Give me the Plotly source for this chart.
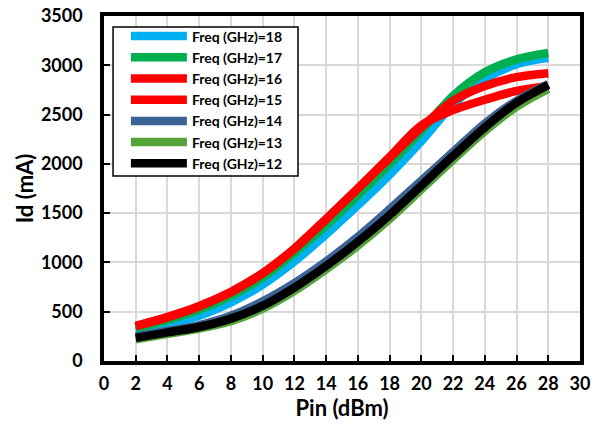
import plotly.graph_objects as go

pin = [2, 4, 6, 8, 10, 12, 14, 16, 18, 20, 22, 24, 26, 28]

id_18 = [305, 375, 460, 595, 775, 1010, 1285, 1580, 1890, 2230, 2600, 2860, 3010, 3075]
id_17 = [330, 415, 520, 660, 845, 1095, 1375, 1680, 1995, 2335, 2690, 2930, 3060, 3125]
id_16 = [355, 445, 555, 700, 890, 1140, 1440, 1750, 2060, 2370, 2640, 2790, 2880, 2920]
id_15 = [355, 445, 555, 700, 890, 1140, 1440, 1750, 2070, 2390, 2545, 2650, 2740, 2790]
id_14 = [250, 305, 365, 460, 605, 790, 1010, 1260, 1540, 1830, 2120, 2410, 2640, 2810]
id_13 = [220, 275, 330, 405, 530, 710, 930, 1170, 1440, 1740, 2040, 2330, 2580, 2760]
id_12 = [235, 290, 345, 430, 560, 745, 965, 1210, 1480, 1780, 2080, 2370, 2620, 2800]

series = [
    ("Freq (GHz)=18", id_18, "#00B0F0"),
    ("Freq (GHz)=17", id_17, "#00B050"),
    ("Freq (GHz)=16", id_16, "#FF0000"),
    ("Freq (GHz)=15", id_15, "#FF0000"),
    ("Freq (GHz)=14", id_14, "#3C6496"),
    ("Freq (GHz)=13", id_13, "#55A43A"),
    ("Freq (GHz)=12", id_12, "#000000"),
]

x_ticks = list(range(0, 31, 2))
y_ticks = list(range(0, 3501, 500))

FONT = "Lato"

fig = go.Figure()
for name, vals, col in series:
    fig.add_trace(go.Scatter(
        x=pin, y=vals, name=name, mode="lines",
        line=dict(color=col, width=8.5, shape="spline", smoothing=0.9),
    ))

# legend frame (white box with thin black border)
fig.add_shape(
    type="rect", xref="paper", yref="paper",
    x0=0.019, x1=0.4076, y0=0.536, y1=0.968,
    line=dict(color="black", width=1.5), fillcolor="white", layer="above",
)

fig.update_layout(
    width=600, height=424,
    margin=dict(l=104, r=20, t=16, b=63),
    paper_bgcolor="white", plot_bgcolor="white",
    font=dict(family=FONT, color="black", size=15),
    legend=dict(
        x=0.046, y=0.987, xanchor="left", yanchor="top",
        bgcolor="rgba(0,0,0,0)", borderwidth=0,
        font=dict(family=FONT, size=14, color="black", weight="bold"),
        tracegroupgap=0, itemwidth=56,
    ),
    showlegend=True,
)
fig.update_xaxes(
    range=[0, 30], tickvals=x_ticks, ticktext=[str(v) for v in x_ticks],
    showgrid=True, gridcolor="#D9D9D9", gridwidth=2,
    showline=True, linecolor="black", linewidth=3.5, mirror=True,
    ticks="inside", ticklen=6, tickwidth=2, tickcolor="black",
    ticklabelstandoff=4,
    tickfont=dict(family=FONT, size=18, weight="bold"),
    title=dict(text="Pin (dBm)", font=dict(family=FONT, size=22, weight="bold"), standoff=4),
    zeroline=False, automargin=False,
)
fig.update_yaxes(
    range=[0, 3500], tickvals=y_ticks, ticktext=[str(v) for v in y_ticks],
    showgrid=True, gridcolor="#D9D9D9", gridwidth=2,
    showline=True, linecolor="black", linewidth=3.5, mirror=True,
    ticks="inside", ticklen=6, tickwidth=2, tickcolor="black",
    ticklabelstandoff=14,
    tickfont=dict(family=FONT, size=18, weight="bold"),
    title=dict(text="Id (mA)", font=dict(family=FONT, size=22, weight="bold"), standoff=2),
    zeroline=False, automargin=False,
)

fig.write_html("out.html")
